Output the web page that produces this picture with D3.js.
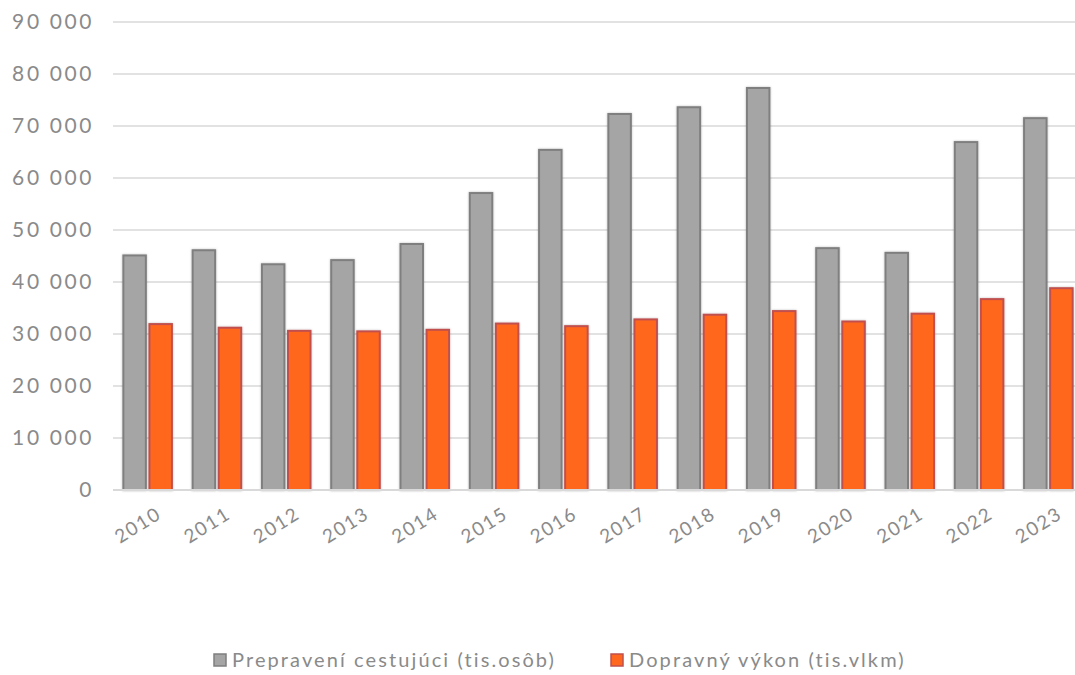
<!DOCTYPE html>
<html>
<head>
<meta charset="utf-8">
<script src="https://cdn.jsdelivr.net/npm/d3@7"></script>
<style>
  body { margin: 0; background: #fff; }
  svg { display: block; font-family: Lato, "Open Sans", sans-serif; }
</style>
</head>
<body>
<div id="chart"></div>
<script>
'use strict';

const years = ['2010', '2011', '2012', '2013', '2014', '2015', '2016', '2017', '2018', '2019', '2020', '2021', '2022', '2023'];
const passengers = [45300, 46300, 43600, 44400, 47500, 57300, 65600, 72500, 73800, 77500, 46700, 45800, 67100, 71700];
const performance = [32100, 31400, 30800, 30700, 31000, 32200, 31700, 33000, 33900, 34600, 32600, 34100, 36900, 39000];
const seriesNames = ['Prepravení cestujúci (tis.osôb)', 'Dopravný výkon (tis.vlkm)'];
const yTicks = [0, 10000, 20000, 30000, 40000, 50000, 60000, 70000, 80000, 90000];

const width = 1075;
const height = 675;
const fills = ['#a5a5a5', '#ff671f'];
const strokes = ['#7f7f7f', '#c0504d'];
const textColor = '#8a8a8a';

const svg = d3.select('#chart').append('svg')
  .attr('width', width)
  .attr('height', height);

const xScale = d3.scaleBand()
  .domain(years)
  .range([113, 1083])
  .paddingInner(0.27)
  .paddingOuter(0.135);

const sub = d3.scaleBand()
  .domain([0, 1])
  .range([0, xScale.bandwidth()])
  .paddingInner(0.06);

const yScale = d3.scaleLinear()
  .domain([0, 90000])
  .range([490, 22]);

const fmt = function (d) {
  return d3.format(',')(d).replace(/,/g, ' ');
};

// gridlines
svg.append('g')
  .selectAll('line')
  .data(yTicks.slice(1))
  .enter().append('line')
  .attr('x1', 113)
  .attr('x2', width)
  .attr('y1', d => yScale(d))
  .attr('y2', d => yScale(d))
  .attr('stroke', '#d9d9d9')
  .attr('stroke-width', 1.5);

// y labels
svg.append('g')
  .selectAll('text')
  .data(yTicks)
  .enter().append('text')
  .attr('x', 94)
  .attr('y', d => yScale(d))
  .attr('dy', '0.35em')
  .attr('text-anchor', 'end')
  .attr('fill', textColor)
  .style('font-size', '21px')
  .style('letter-spacing', '2.6px')
  .text(fmt);

// bars
const defs = svg.append('defs');
defs.append('filter').attr('id', 'shadow')
  .attr('x', '-20%').attr('y', '-5%').attr('width', '140%').attr('height', '110%')
  .append('feDropShadow')
  .attr('dx', 0).attr('dy', 0).attr('stdDeviation', 1.2)
  .attr('flood-color', '#000').attr('flood-opacity', 0.25);

const groups = svg.append('g')
  .selectAll('g')
  .data(years.map((y, i) => ({ year: y, values: [passengers[i], performance[i]] })))
  .enter().append('g')
  .attr('transform', d => 'translate(' + xScale(d.year) + ',0)');

groups.selectAll('rect')
  .data(d => d.values.map((v, k) => ({ k: k, v: v })))
  .enter().append('rect')
  .attr('x', d => sub(d.k) + 1)
  .attr('y', d => yScale(d.v) + 1)
  .attr('width', sub.bandwidth() - 2)
  .attr('height', d => yScale(0) - yScale(d.v) - 1)
  .attr('fill', d => fills[d.k])
  .attr('stroke', d => strokes[d.k])
  .attr('stroke-width', 2)
  .attr('filter', 'url(#shadow)');

// x axis line
svg.append('line')
  .attr('x1', 113)
  .attr('x2', width)
  .attr('y1', yScale(0))
  .attr('y2', yScale(0))
  .attr('stroke', '#d9d9d9')
  .attr('stroke-width', 2);

// x labels
svg.append('g')
  .selectAll('text')
  .data(years)
  .enter().append('text')
  .attr('transform', d => 'translate(' + (xScale(d) + xScale.bandwidth() / 2 + 8) + ',506) rotate(-32)')
  .attr('text-anchor', 'end')
  .attr('dy', '0.7em')
  .attr('fill', textColor)
  .style('font-size', '19px')
  .style('letter-spacing', '1.6px')
  .text(d => d);

// legend
const legendItems = [{ x: 213, k: 0 }, { x: 610, k: 1 }];
const legend = svg.append('g')
  .selectAll('g')
  .data(legendItems)
  .enter().append('g')
  .attr('transform', d => 'translate(' + d.x + ',653)');

legend.append('rect')
  .attr('x', 1).attr('y', 1)
  .attr('width', 12).attr('height', 12)
  .attr('fill', d => fills[d.k])
  .attr('stroke', d => strokes[d.k])
  .attr('stroke-width', 1.5);

legend.append('text')
  .attr('x', 19)
  .attr('y', 7)
  .attr('dy', '0.35em')
  .attr('fill', textColor)
  .style('font-size', '20px')
  .style('letter-spacing', '2.1px')
  .text(d => seriesNames[d.k]);
</script>
</body>
</html>
